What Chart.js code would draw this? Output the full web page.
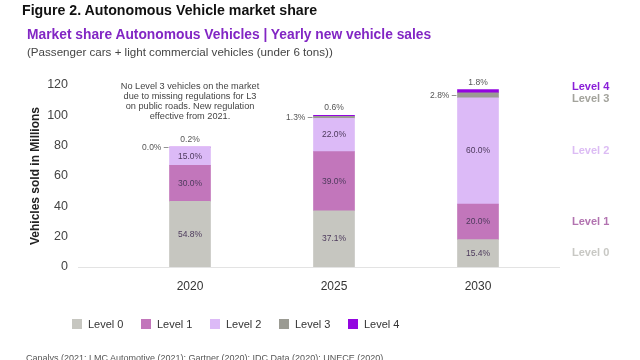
<!DOCTYPE html>
<html>
<head>
<meta charset="utf-8">
<script src="https://cdn.jsdelivr.net/npm/chart.js@4"></script>
<style>
  body { margin: 0; background: #fff; font-family: "Liberation Sans", Arial, sans-serif; }
  #wrap { position: relative; width: 640px; height: 360px; overflow: hidden; }
  #chart { position: absolute; left: 0; top: 0; }
  .t { position: absolute; white-space: nowrap; }
  #fig { left: 22px; top: 2px; font-size: 14.2px; font-weight: bold; color: #111; }
  #sub { left: 27px; top: 27px; font-size: 13.8px; font-weight: bold; color: #8226c4; }
  #sub2 { left: 27px; top: 45px; font-size: 11.6px; color: #444; }
  #src { left: 26px; top: 353px; font-size: 9px; color: #555; }
</style>
</head>
<body>
<div id="wrap">
  <canvas id="chart" width="640" height="360"></canvas>
  <div class="t" id="fig">Figure 2. Autonomous Vehicle market share</div>
  <div class="t" id="sub">Market share Autonomous Vehicles | Yearly new vehicle sales</div>
  <div class="t" id="sub2">(Passenger cars + light commercial vehicles (under 6 tons))</div>
  <div class="t" id="src">Canalys (2021; LMC Automotive (2021); Gartner (2020); IDC Data (2020); UNECE (2020)</div>
</div>
<script>
// data
const years = ['2020', '2025', '2030'];
const totals = [79, 100, 117]; // millions of vehicles per year
const level0Share = [54.8, 37.1, 15.4];
const level1Share = [30.0, 39.0, 20.0];
const level2Share = [15.0, 22.0, 60.0];
const level3Share = [0.0, 1.3, 2.8];
const level4Share = [0.2, 0.6, 1.8];
const levelNames = ['Level 0', 'Level 1', 'Level 2', 'Level 3', 'Level 4'];
const levelColors = ['#c6c6c0', '#c276bb', '#dcbaf7', '#9b9b93', '#9305e0'];
const rightLabelColors = ['#c8c8c4', '#b273b0', '#dcbcf4', '#a3a39c', '#8a1fd8'];
const noteLines = [
  'No Level 3 vehicles on the market',
  'due to missing regulations for L3',
  'on public roads. New regulation',
  'effective from 2021.'
];

const shares = [level0Share, level1Share, level2Share, level3Share, level4Share];
const fmt = v => v.toFixed(1) + '%';

const datasets = shares.map((s, i) => ({
  label: levelNames[i],
  data: s.map((p, j) => totals[j] * p / 100),
  backgroundColor: levelColors[i],
  borderWidth: 0,
  barThickness: 41,
  stack: 'a'
}));

// labels on / next to the bars, right-hand level names, note and legend
const decorations = {
  id: 'decorations',
  afterDatasetsDraw(chart) {
    const c = chart.ctx;
    const area = chart.chartArea;
    c.save();

    // baseline running a bit past the plot
    c.strokeStyle = '#e3e3e3';
    c.lineWidth = 1;
    c.beginPath();
    c.moveTo(78, area.bottom + 0.5);
    c.lineTo(560, area.bottom + 0.5);
    c.stroke();

    c.font = '8.5px "Liberation Sans", Arial, sans-serif';
    shares.forEach((s, i) => {
      const meta = chart.getDatasetMeta(i);
      meta.data.forEach((bar, j) => {
        const half = bar.width / 2;
        if (i <= 2) {
          c.fillStyle = '#4d3a5c';
          c.textAlign = 'center';
          c.textBaseline = 'middle';
          c.fillText(fmt(s[j]), bar.x, (bar.y + bar.base) / 2);
        } else if (i === 3) {
          c.fillStyle = '#555';
          c.textAlign = 'right';
          c.textBaseline = 'middle';
          c.fillText(fmt(s[j]) + ' \u2013', bar.x - half - 1, (bar.y + bar.base) / 2);
        } else {
          c.fillStyle = '#555';
          c.textAlign = 'center';
          c.textBaseline = 'bottom';
          c.fillText(fmt(s[j]), bar.x, bar.y - 3);
        }
      });
    });

    // level names beside the last bar
    c.font = 'bold 11px "Liberation Sans", Arial, sans-serif';
    c.textAlign = 'left';
    c.textBaseline = 'middle';
    const nudge = [0, 0, 0, 4, -4];
    shares.forEach((s, i) => {
      const bar = chart.getDatasetMeta(i).data[years.length - 1];
      c.fillStyle = rightLabelColors[i];
      c.fillText(levelNames[i], 572, (bar.y + bar.base) / 2 + nudge[i]);
    });

    // note above the first bar
    const first = chart.getDatasetMeta(0).data[0];
    c.font = '9.2px "Liberation Sans", Arial, sans-serif';
    c.fillStyle = '#444';
    c.textAlign = 'center';
    noteLines.forEach((line, k) => c.fillText(line, first.x, 86 + k * 10.3));

    // legend
    c.font = '11px "Liberation Sans", Arial, sans-serif';
    levelNames.forEach((name, i) => {
      const x = 72 + i * 69;
      c.fillStyle = levelColors[i];
      c.fillRect(x, 319, 10, 10);
      c.fillStyle = '#333';
      c.textAlign = 'left';
      c.fillText(name, x + 16, 324.5);
    });
    c.restore();
  }
};

new Chart(document.getElementById('chart'), {
  type: 'bar',
  data: { labels: years, datasets: datasets },
  options: {
    responsive: false,
    animation: false,
    layout: { padding: { left: 24, right: 90, top: 85, bottom: 63 } },
    plugins: {
      legend: { display: false },
      tooltip: { enabled: false }
    },
    scales: {
      x: {
        stacked: true,
        grid: { display: false },
        border: { display: false },
        ticks: { color: '#333', font: { size: 12, family: '"Liberation Sans", Arial' }, padding: 4 },
        afterFit: s => { s.height = 30; }
      },
      y: {
        stacked: true,
        min: 0,
        max: 120,
        grid: { display: false, drawTicks: false },
        border: { display: false },
        ticks: { stepSize: 20, color: '#444', font: { size: 12.5, family: '"Liberation Sans", Arial' }, padding: 50 },
        title: {
          display: true,
          text: 'Vehicles sold in Millions',
          color: '#222',
          font: { size: 12, weight: 'bold', family: '"Liberation Sans", Arial' }
        },
        afterFit: s => { s.width = 94; }
      }
    }
  },
  plugins: [decorations]
});
</script>
</body>
</html>
